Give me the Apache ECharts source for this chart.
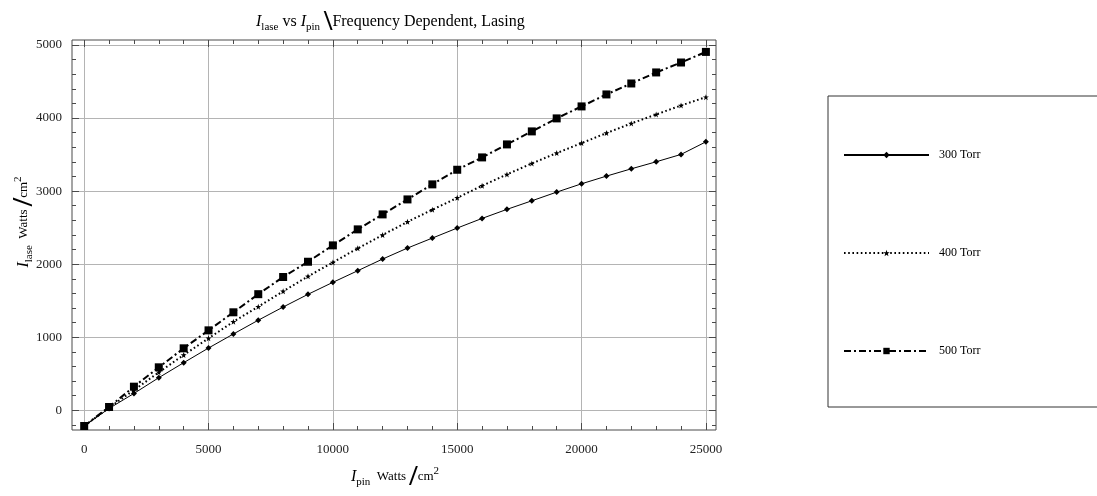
<!DOCTYPE html>
<html>
<head>
<meta charset="utf-8">
<script src="https://cdn.jsdelivr.net/npm/echarts@6/dist/echarts.min.js"></script>
<style>
  html, body { margin: 0; padding: 0; background: #fff; }
  #chart { width: 1097px; height: 496px; }
</style>
</head>
<body>
<div id="chart"></div>
<script>
// Pump intensity (W/cm^2) at which the lasing intensity was computed
const pumpIntensity = [0, 1000, 2000, 3000, 4000, 5000, 6000, 7000, 8000, 9000, 10000, 11000, 12000,
  13000, 14000, 15000, 16000, 17000, 18000, 19000, 20000, 21000, 22000, 23000, 24000, 25000];

// Lasing intensity (W/cm^2) for each gas pressure
const lase300 = [-215, 25, 230, 446, 651, 852, 1044, 1233, 1413, 1587, 1751, 1910, 2070,
  2220, 2357, 2494, 2626, 2750, 2867, 2986, 3100, 3205, 3305, 3401, 3502, 3674];
const lase400 = [-215, 35, 275, 520, 756, 985, 1212, 1418, 1628, 1833, 2024, 2216, 2398,
  2580, 2745, 2908, 3073, 3228, 3379, 3520, 3657, 3794, 3926, 4049, 4172, 4286];
const lase500 = [-215, 45, 323, 588, 848, 1094, 1341, 1589, 1824, 2033, 2257, 2476, 2681,
  2886, 3092, 3292, 3461, 3639, 3817, 3995, 4159, 4323, 4473, 4624, 4760, 4905];

const seriesNames = ['300 Torr', '400 Torr', '500 Torr'];

// Tick positions
const xMajorTicks = [0, 5000, 10000, 15000, 20000, 25000];
const xMinorTicks = [0, 1000, 2000, 3000, 4000, 5000, 6000, 7000, 8000, 9000, 10000, 11000, 12000,
  13000, 14000, 15000, 16000, 17000, 18000, 19000, 20000, 21000, 22000, 23000, 24000, 25000];
const yMajorTicks = [0, 1000, 2000, 3000, 4000, 5000];
const yMinorTicks = [-200, 0, 200, 400, 600, 800, 1000, 1200, 1400, 1600, 1800, 2000, 2200, 2400,
  2600, 2800, 3000, 3200, 3400, 3600, 3800, 4000, 4200, 4400, 4600, 4800, 5000];

const X_MIN = -490, X_MAX = 25406;
const Y_MIN = -270, Y_MAX = 5068;

const FONT = 'Liberation Serif';
const FRAME = '#4a4a4a';
const GRID = '#b4b4b4';

const starPath = 'path://M0,-10L2.35,-3.24L9.51,-3.09L3.8,1.24L5.88,8.09L0,4L-5.88,8.09L-3.8,1.24L-9.51,-3.09L-2.35,-3.24Z';

const rich = {
  it:  { fontFamily: FONT, fontStyle: 'italic', fontSize: 16, lineHeight: 22, color: '#000' },
  sub: { fontFamily: FONT, fontSize: 11, lineHeight: 10, verticalAlign: 'bottom', color: '#000' },
  tx:  { fontFamily: FONT, fontSize: 16, lineHeight: 22, color: '#000' },
  sm:  { fontFamily: FONT, fontSize: 13, lineHeight: 22, color: '#000' },
  sl:  { fontFamily: FONT, fontSize: 30, fontWeight: 'bold', lineHeight: 22, color: '#000' },
  sup: { fontFamily: FONT, fontSize: 11, lineHeight: 10, verticalAlign: 'top', color: '#000' }
};

function valueAxis(pos, min, max, ticks, len, withLabels, withSplit) {
  return {
    type: 'value', position: pos, min: min, max: max,
    axisLine: { show: false, onZero: false },
    axisTick: { show: true, inside: true, length: len, customValues: ticks,
      lineStyle: { color: FRAME, width: 1 } },
    axisLabel: withLabels ? {
      show: true, customValues: ticks, margin: 10,
      formatter: v => String(v),
      fontFamily: FONT, fontSize: 13, color: '#222'
    } : { show: false },
    splitLine: { show: withSplit, lineStyle: { color: GRID, width: 1 } }
  };
}

const xAxes = [
  valueAxis('bottom', X_MIN, X_MAX, xMajorTicks, 7, true, true),
  valueAxis('bottom', X_MIN, X_MAX, xMinorTicks, 4, false, false),
  valueAxis('top', X_MIN, X_MAX, xMajorTicks, 7, false, false),
  valueAxis('top', X_MIN, X_MAX, xMinorTicks, 4, false, false)
];
xAxes[0].axisLabel.margin = 13;

const yAxes = [
  valueAxis('left', Y_MIN, Y_MAX, yMajorTicks, 7, true, true),
  valueAxis('left', Y_MIN, Y_MAX, yMinorTicks, 4, false, false),
  valueAxis('right', Y_MIN, Y_MAX, yMajorTicks, 7, false, false),
  valueAxis('right', Y_MIN, Y_MAX, yMinorTicks, 4, false, false)
];

function pairs(ys) {
  return pumpIntensity.map((x, i) => [x, ys[i]]);
}

const chart = echarts.init(document.getElementById('chart'), null, { renderer: 'canvas' });

chart.setOption({
  animation: false,
  backgroundColor: '#fff',
  title: {
    left: 256, top: 11, padding: 0,
    text: '{it|I}{sub|lase}{tx| vs }{it|I}{sub|pin}{tx| }{sl|\\}{tx|Frequency Dependent, Lasing}',
    textStyle: { rich: rich, fontFamily: FONT, fontSize: 16, fontWeight: 'normal', color: '#000' }
  },
  grid: {
    left: 72, top: 40, right: 381, bottom: 66,
    show: true, borderColor: FRAME, borderWidth: 1, backgroundColor: 'transparent'
  },
  xAxis: xAxes,
  yAxis: yAxes,
  legend: {
    orient: 'vertical', left: 828, top: 96,
    padding: [53, 140, 50, 15],
    itemWidth: 85, itemHeight: 8, itemGap: 86,
    borderColor: '#333', borderWidth: 1,
    textStyle: { fontFamily: FONT, fontSize: 12, color: '#000', padding: [0, 0, 0, 5] },
    data: seriesNames
  },
  graphic: [
    {
      type: 'text', x: 24, y: 222, rotation: Math.PI / 2,
      style: {
        text: '{it|I}{sub|lase}{sm|  Watts }{sl|/}{sm|cm}{sup|2}',
        rich: rich, align: 'center', verticalAlign: 'middle'
      }
    },
    {
      type: 'text', x: 395, y: 477,
      style: {
        text: '{it|I}{sub|pin}{sm|  Watts }{sl|/}{sm|cm}{sup|2}',
        rich: rich, align: 'center', verticalAlign: 'middle'
      }
    }
  ],
  series: [
    {
      name: seriesNames[0], type: 'line', data: pairs(lase300),
      xAxisIndex: 0, yAxisIndex: 0,
      symbol: 'diamond', symbolSize: 6, color: '#000',
      lineStyle: { color: '#000', width: 1, type: 'solid' },
      itemStyle: { color: '#000' }
    },
    {
      name: seriesNames[1], type: 'line', data: pairs(lase400),
      xAxisIndex: 0, yAxisIndex: 0,
      symbol: starPath, symbolSize: 6, color: '#000',
      lineStyle: { color: '#000', width: 2, type: [1.6, 2.6] },
      itemStyle: { color: '#000' }
    },
    {
      name: seriesNames[2], type: 'line', data: pairs(lase500),
      xAxisIndex: 0, yAxisIndex: 0,
      symbol: 'rect', symbolSize: 8, color: '#000',
      lineStyle: { color: '#000', width: 2, type: [7, 3, 2, 3] },
      itemStyle: { color: '#000' }
    }
  ]
});
</script>
</body>
</html>
